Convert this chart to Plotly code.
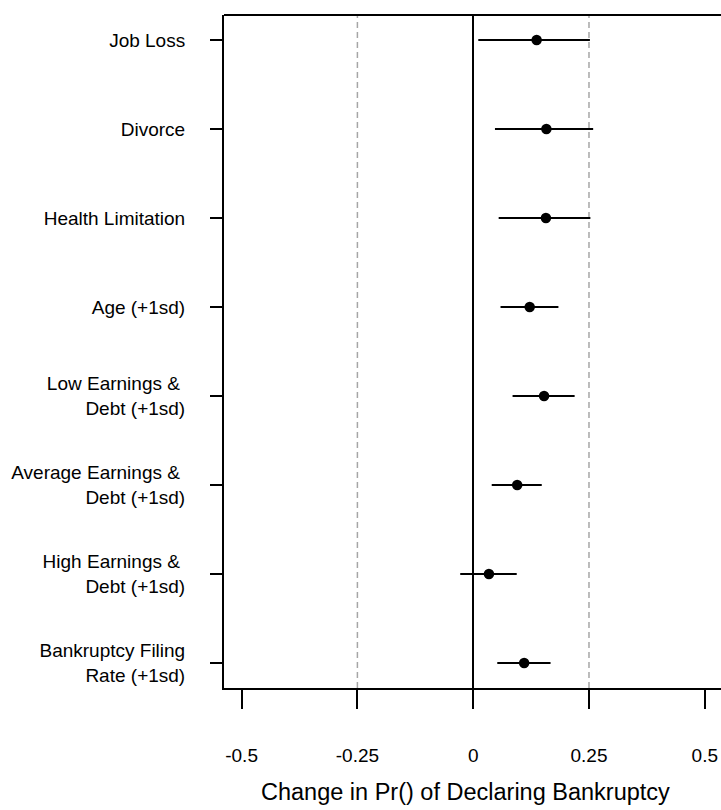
import plotly.graph_objects as go

# Coefficient plot: change in probability of declaring bankruptcy
labels = [
    "Job Loss",
    "Divorce",
    "Health Limitation",
    "Age (+1sd)",
    "Low Earnings &\u00a0<br>Debt (+1sd)",
    "Average Earnings &\u00a0<br>Debt (+1sd)",
    "High Earnings &\u00a0<br>Debt (+1sd)",
    "Bankruptcy Filing<br>Rate (+1sd)",
]
estimates = [0.137, 0.158, 0.157, 0.122, 0.153, 0.095, 0.034, 0.110]
ci_low = [0.011, 0.047, 0.055, 0.059, 0.085, 0.040, -0.028, 0.052]
ci_high = [0.252, 0.259, 0.253, 0.184, 0.219, 0.148, 0.094, 0.167]
x_ticks = [-0.5, -0.25, 0, 0.25, 0.5]
x_tick_text = ["-0.5", "-0.25", "0", "0.25", "0.5"]
ref_lines = [-0.25, 0.25]

rows = list(range(1, len(labels) + 1))
err_plus = [h - e for h, e in zip(ci_high, estimates)]
err_minus = [e - l for e, l in zip(estimates, ci_low)]

FONT = "Liberation Sans, Arial, sans-serif"

fig = go.Figure()
fig.add_trace(go.Scatter(
    x=estimates,
    y=rows,
    mode="markers",
    marker=dict(color="black", size=10.5),
    error_x=dict(type="data", symmetric=False, array=err_plus,
                 arrayminus=err_minus, color="black", thickness=2, width=0),
    showlegend=False,
))

shapes = []
for v in ref_lines:
    shapes.append(dict(type="line", xref="x", yref="paper", x0=v, x1=v, y0=0, y1=1,
                       line=dict(color="#a6a6a6", width=1.5, dash="6px,4px"), layer="below"))
# top border of the plotting box
shapes.append(dict(type="line", xref="paper", yref="paper", x0=0, x1=1, y0=1, y1=1,
                   line=dict(color="black", width=2)))

fig.update_layout(
    width=721,
    height=810,
    margin=dict(l=224, r=0, t=15, b=122),
    plot_bgcolor="white",
    paper_bgcolor="white",
    font=dict(family=FONT, size=19, color="black"),
    shapes=shapes,
    annotations=[dict(
        text="Change in Pr() of Declaring Bankruptcy",
        xref="paper", yref="paper", x=0.485, y=-0.1545,
        xanchor="center", yanchor="middle", showarrow=False,
        font=dict(family=FONT, size=23.5, color="black"),
    )],
)

fig.update_xaxes(
    range=[-0.538, 0.535],
    tickvals=x_ticks,
    ticktext=x_tick_text,
    ticks="outside",
    ticklen=19,
    tickwidth=2,
    tickcolor="black",
    showline=True,
    linecolor="black",
    linewidth=2,
    showgrid=False,
    zeroline=True,
    zerolinecolor="black",
    zerolinewidth=2,
    ticklabelstandoff=30,
    tickfont=dict(family=FONT, size=19, color="black"),
)
fig.update_yaxes(
    range=[8.28, 0.72],
    tickvals=rows,
    ticktext=labels,
    ticks="outside",
    ticklen=12,
    tickwidth=2,
    tickcolor="black",
    showline=True,
    linecolor="black",
    linewidth=2,
    showgrid=False,
    zeroline=False,
    ticklabelstandoff=21,
    tickfont=dict(family=FONT, size=19, color="black"),
)

fig.write_html("out.html")
